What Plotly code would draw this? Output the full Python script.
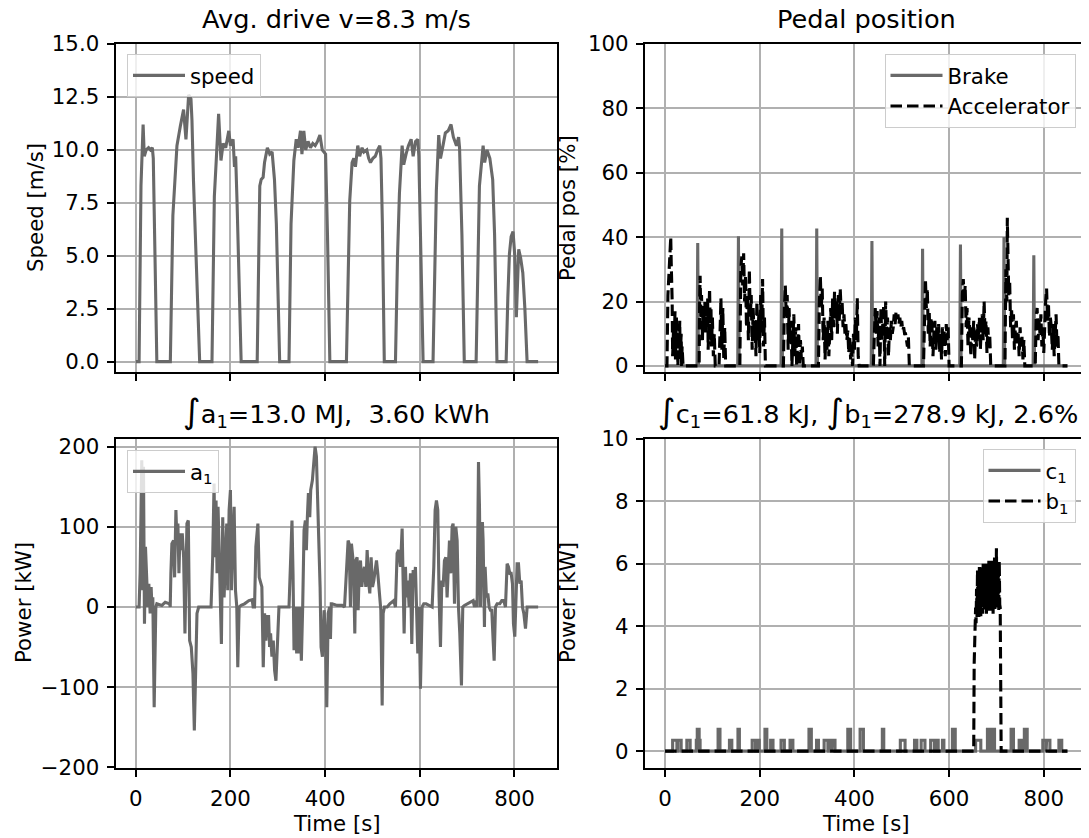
import plotly.graph_objects as go

# page body has an 8px margin: the figure is drawn 8px right/down of the window corner
OFF = 8
W, H = 1089 - OFF, 838 - OFF

# ---------------- data ----------------
speed_t = [0, 7, 11, 15.5, 18, 22, 27, 31, 35, 37, 44.5,
           73, 78.4, 83, 87, 94, 101, 106, 111.7, 116.6, 118.7, 122, 128, 135,
           161, 166, 170, 175, 180, 184.5, 190, 196.5, 200, 205.6, 208.5, 211, 214, 222.6,
           256.5, 262, 265, 269, 272, 278, 283, 288, 293, 297, 304,
           323.7, 328, 334, 339, 343, 348, 351, 355, 359, 364, 369, 374, 379, 384, 389, 394, 401, 405, 410,
           445, 449, 452, 457, 460.6, 464, 469, 473, 478, 482, 488, 492, 495.8, 501, 506, 511, 515.5, 518, 521, 525,
           548.6, 553, 557, 562.7, 566, 571, 576, 581.7, 586, 591, 595.8, 598, 602, 607,
           628, 632, 635, 640, 643.7, 649, 654, 660, 666, 671, 677.5, 682, 684, 689, 694,
           719, 723, 726, 733.8, 737, 742, 748, 754, 758, 763,
           782.4, 786, 789.4, 793, 797, 800.7, 804, 809, 813, 817.6, 822, 826.7, 850]
speed_v = [0, 0, 8.3, 11.2, 9.7, 10.0, 10.1, 10.0, 10.1, 9.6, 0,
           0, 6.9, 9.0, 10.2, 11.1, 11.9, 10.5, 12.6, 12.4, 11.4, 8.5, 4.2, 0,
           0, 7.8, 9.5, 11.7, 9.5, 10.3, 10.1, 10.9, 10.2, 10.5, 9.2, 9.7, 7.5, 0,
           0, 8.3, 8.6, 8.7, 9.4, 10.1, 9.8, 9.9, 8.6, 6.5, 0,
           0, 6.5, 9.5, 10.5, 10.1, 10.9, 9.8, 10.9, 10.0, 10.4, 10.1, 10.3, 10.2, 10.4, 10.7, 10.0, 9.8, 6.0, 0,
           0, 4.5, 7.6, 9.4, 9.6, 9.2, 10.2, 9.7, 10.1, 9.9, 10.0, 9.6, 9.4, 9.6, 9.7, 10.0, 10.2, 9.6, 6.5, 0,
           0, 5.0, 7.95, 10.2, 9.3, 9.8, 10.2, 10.5, 9.7, 10.4, 10.5, 9.7, 5.5, 0,
           0, 5.5, 8.1, 10.7, 9.6, 10.2, 10.8, 10.9, 11.2, 10.6, 10.2, 10.6, 10.1, 6.0, 0,
           0, 5.0, 8.3, 10.2, 9.4, 10.0, 9.6, 8.6, 6.0, 0,
           0, 3.0, 5.1, 5.9, 6.14, 5.0, 2.1, 5.3, 4.9, 4.2, 2.5, 0, 0]

brake_spike_t = [69, 155, 246.5, 320.4, 437, 544, 624, 716, 779]
brake_spike_v = [38.2, 40.3, 42.7, 42.7, 38.8, 36.4, 37.7, 40.0, 34.4]

acc_t = [0, 4, 6, 8, 10, 12, 13, 15, 16, 18, 19, 21, 22, 24, 25, 26, 27, 29, 30, 31, 32, 34, 35, 36, 38,
         72, 73, 74, 76, 77, 79, 80, 82, 84, 85, 87, 88, 90, 91, 93, 94, 96, 97, 98, 100, 102, 104, 106,
         114, 116, 118, 120, 122, 124, 126, 128, 130,
         158, 160, 162, 164, 166, 168, 170, 172, 174, 176, 178, 180, 182, 184, 186, 188, 190, 192, 194,
         196, 198, 200, 202, 204, 206, 208, 210, 212,
         250, 252, 254, 256, 258, 260, 262, 264, 266, 268, 270, 272, 274, 276, 278, 280, 282, 284, 286,
         288, 290, 292,
         324, 326, 328, 330, 332, 334, 336, 338, 340, 342, 344, 346, 348, 350, 352, 354, 356, 358, 360,
         362, 364, 366, 368, 370, 372, 374, 376, 378, 380, 382, 384, 386, 388, 390, 392, 394, 396, 398,
         400, 402, 404, 406, 408, 410,
         440, 442, 444, 446, 448, 450, 452, 454, 456, 458, 460, 462, 464, 466, 468, 470, 472, 474, 476,
         478, 480, 482, 484, 486, 488, 490, 492, 494, 496, 498, 500, 502, 504, 506, 508, 510, 512, 514, 516,
         546, 548, 550, 552, 554, 556, 558, 560, 562, 564, 566, 568, 570, 572, 574, 576, 578, 580, 582,
         584, 586, 588, 590, 592, 594, 596, 598, 600,
         626, 628, 630, 632, 634, 636, 638, 640, 642, 644, 646, 648, 650, 652, 654, 656, 658, 660, 662,
         664, 666, 668, 670, 672, 674, 676, 678, 680, 682, 684, 686, 688,
         718, 720, 722, 723, 724, 726, 728, 730, 732, 734, 736, 738, 740, 742, 744, 746, 748, 750, 752,
         754, 756, 758, 760,
         782, 784, 786, 788, 790, 792, 794, 796, 798, 800, 802, 804, 806, 808, 810, 812, 814, 816, 818,
         820, 822, 824, 826, 828, 830, 832, 850]
acc_v = [0, 0, 22, 30, 36, 40, 32, 20, 3, 12, 5, 17, 2, 15, 8, 13, 0, 10, 5, 14, 2, 10, 0, 6, 0,
         0, 20, 28, 12, 22, 8, 18, 14, 20, 10, 18, 13, 21, 5, 15, 24, 8, 18, 6, 15, 3, 10, 0,
         0, 10, 21, 5, 18, 2, 12, 0, 0,
         0, 30, 34, 25, 35, 20, 28, 12, 22, 8, 30, 15, 22, 5, 18, 10, 14, 3, 20,
         8, 16, 4, 22, 10, 27, 6, 15, 0,
         0, 18, 25, 15, 22, 5, 18, 8, 14, 0, 10, 16, 3, 12, 0, 8, 13, 0, 8,
         2, 6, 0,
         0, 20, 28, 18, 24, 8, 15, 2, 12, 5, 14, 3, 10, 18, 8, 21, 12, 23, 15,
         20, 10, 22, 14, 24, 17, 20, 12, 16, 10, 13, 8, 11, 4, 9, 2, 6, 0, 10,
         5, 15, 8, 21, 3, 0,
         0, 12, 18, 10, 17, 6, 15, 0, 18, 8, 14, 19, 0, 20, 10, 15, 3, 12, 8,
         14, 10, 12, 16, 13, 17, 15, 16, 13, 15, 12, 14, 11, 12, 10, 10, 8, 6, 9, 0,
         0, 20, 27, 18, 24, 10, 17, 6, 15, 12, 3, 11, 14, 5, 12, 8, 13, 4, 10,
         2, 12, 6, 11, 3, 13, 8, 12, 0,
         0, 22, 27, 20, 25, 12, 18, 6, 15, 10, 3, 12, 8, 14, 2, 11, 6, 13, 9,
         15, 5, 12, 16, 8, 20, 10, 14, 4, 12, 6, 9, 0,
         0, 30, 20, 46, 30, 22, 26, 12, 18, 8, 16, 5, 12, 14, 7, 10, 3, 12, 6,
         9, 2, 8, 0,
         0, 15, 18, 8, 14, 10, 16, 6, 12, 4, 15, 20, 24, 14, 19, 9, 15, 12, 5,
         13, 3, 11, 16, 6, 10, 0, 0]

a1_t = [0, 7, 9.2, 11.3, 12.7, 14.8, 16.3, 18.4, 20.5, 23.3, 25.4, 27.6, 30.4, 32.5, 34.6, 36.0, 38.9,
        42.4, 44.5, 55.1, 62.2, 71.4, 72.8, 74.2, 76.3, 79.9, 82.0, 84.8, 86.9, 89.0, 91.2, 93.3, 95.4,
        98.2, 101.1, 103.9, 108.1, 111.0, 113.8, 117.3, 120.8, 123.7, 126.5, 129.3, 132.9, 147, 159,
        162.5, 165.4, 167.5, 169.6, 171.7, 173.8, 176.0, 178.8, 180.9, 183.7, 186.6, 189.4, 192.2, 194.3,
        197.2, 200.0, 202.1, 204.9, 207.8, 210.6, 213.4, 215.5, 218.4, 222.6, 229.7, 238.9, 245.9, 248.0,
        250.9, 253.7, 258.0, 260.8, 263.6, 266.4, 269.3, 272.1, 274.9, 277.7, 280.6, 282.7, 284.8, 287.6,
        290.5, 293.3, 296.1, 298.9, 302.5, 323.7, 327.2, 330.0, 332.2, 334.3, 337.1, 339.9, 342.0, 344.9,
        347.0, 349.8, 352.6, 355.5, 358.3, 360.4, 362.5, 364.7, 367.5, 369.6, 373.1, 376.0, 378.8, 381.6,
        385.9, 389.4, 391.5, 394.3, 397.9, 400.7, 403.5, 406.4, 409.5, 411.3, 413, 414.8, 425.4, 436, 441,
        444.4, 448.6, 450.7, 453.5, 455.6, 458.5, 460.6, 462.7, 464.8, 467.6, 469.8, 471.9, 474.7, 477.5,
        480.3, 483.1, 486.0, 488.8, 491.6, 494.4, 497.2, 500.1, 502.9, 505.7, 508.5, 511.3, 514.9, 517.7,
        520.5, 522.6, 525.4, 531.1, 536.7, 541.6, 545.2, 548.6, 552.1, 555.7, 559.2, 562.7, 564.8, 566.9,
        569.7, 571.8, 574.6, 577.5, 580.3, 583.1, 586.0, 588.7, 590.8, 593.0, 595.8, 598.6, 601.4, 604.9,
        608.5, 613.4, 626.1, 629.6, 632.4, 635.2, 638.0, 640.8, 643.7, 646.5, 649.3, 652.1, 654.9, 657.7,
        660.6, 662.7, 665.5, 668.3, 670.4, 673.3, 676.1, 678.9, 681.7, 684.5, 688.0, 690.8, 694.4, 700.0,
        707.0, 712.7, 715.5, 718.3, 721.1, 724.0, 726.1, 728.2, 730.3, 732.4, 733.8, 735.2, 736.6, 738.0,
        740.9, 743.7, 746.5, 749.3, 752.1, 755.0, 757.1, 759.9, 763.4, 769.0, 773.3, 777.5, 781.0, 784.5,
        787.4, 790.1, 793.0, 795.8, 797.9, 800.7, 803.5, 805.6, 808.5, 811.3, 814.1, 816.9, 819.8, 823.3,
        826.8, 850]
a1_v = [0, 0, 42, 146, 183, 21, 175, -21, 75, 33, 0, 29, -8, 25, -8, 12, -125,
        0, 4, 2, 6, 4, 0, 42, 79, 83, 37, 121, 83, 104, 42, 92, 71,
        92, 62, -33, 104, 108, -42, -50, -83, -154, -83, -8, 0, 0, 0,
        62, 154, 62, 133, 42, 125, 75, 21, -46, 112, 12, 62, 104, 21,
        121, 146, 21, 83, 125, 21, 0, -75, 0, 2, 4, 8, 9, 0,
        0, 75, 104, 37, 29, 25, -75, -8, -42, -12, -12, -50, -33, -62,
        -42, -79, -92, -42, 0, 0, 50, 108, 42, -54, 0, -58, 0, -58,
        0, -67, 0, 96, 108, 71, 112, 142, 112, 146, 158, 183, 200, 188,
        112, 25, -50, -62, -4, -37, -125, -8, 0, -40, 4, 4, 2, 2, 0,
        33, 83, 79, 0, 79, 62, 33, -33, 58, 62, -4, 42, 58, 25,
        42, 50, 25, 71, 33, 17, 62, 25, 33, 50, 58, 42, 21, -4,
        -123, -8, 0, 0, 4, 6, 8, 0, 67, 71, 50, 98, 42, -33,
        50, 12, 33, 0, 42, -46, 46, 33, 50, 0, -58, 0, -102, 0,
        4, 4, 0, 50, 121, 133, 121, 12, -50, 33, 25, 58, 62, 12,
        71, 83, 42, 100, 104, 4, 100, 83, 0, -33, -98, 0, 2, 4,
        6, 8, 0, 8, 0, 181, 125, 0, 104, 104, 83, 0, -25, 50,
        12, 17, 0, -4, -4, -42, -67, 0, 4, 4, 8, 8, 0, 54,
        50, 42, 42, 29, -21, -37, 12, 54, 54, 29, 33, 0, -8, -27,
        0, 0]

c1_pulse_start = [16, 27, 46, 66, 68, 72, 112, 136, 154, 184, 193, 211, 223, 245, 264, 304, 320, 336, 346,
                  353, 386, 412, 459, 497, 527, 541, 561, 571, 586, 607, 656, 681, 691, 731, 748, 759,
                  798, 806, 832]
c1_pulse_end = [25, 34, 53, 68, 72, 74, 116, 141, 157, 191, 199, 215, 228, 252, 270, 309, 324, 344, 352,
                359, 392, 419, 462, 507, 532, 549, 569, 577, 589, 613, 667, 686, 696, 736, 754, 765,
                805, 813, 838]
c1_pulse_level = [0.35, 0.35, 0.35, 0.35, 0.7, 0.35, 0.7, 0.35, 0.7, 0.35, 0.35, 0.7, 0.35, 0.35, 0.35, 0.7,
                  0.35, 0.35, 0.35, 0.35, 0.7, 0.7, 0.7, 0.35, 0.35, 0.35, 0.35, 0.35, 0.35, 0.7, 0.35,
                  0.7, 0.7, 0.7, 0.35, 0.7, 0.35, 0.35, 0.35]

b1_t = [0, 652, 653, 654, 655, 656, 657, 658, 659, 660, 661, 662, 663, 664, 665, 666, 667, 668, 669, 670,
        671, 672, 673, 674, 675, 676, 677, 678, 679, 680, 681, 682, 683, 684, 685, 686, 687, 688, 689,
        690, 691, 692, 693, 694, 695, 696, 697, 698, 699, 700, 701, 702, 703, 704, 705, 706, 707, 708,
        710, 850]
b1_v = [0, 0, 2.8, 4.0, 3.6, 4.6, 4.1, 5.2, 4.3, 5.8, 4.4, 5.6, 4.3, 5.9, 4.5, 5.7, 4.3, 5.9, 4.6, 5.8,
        4.4, 6.0, 4.7, 5.9, 4.5, 6.0, 4.6, 5.8, 4.4, 6.0, 4.7, 5.9, 4.5, 6.1, 4.6, 5.9, 4.5, 6.0, 4.8,
        6.1, 4.6, 5.9, 4.4, 6.0, 4.7, 6.2, 4.5, 5.9, 4.6, 6.5, 4.8, 6.0, 4.6, 5.9, 4.5, 6.1, 4.7, 4.6,
        0, 0]

x_ticks = [0, 200, 400, 600, 800]

# ---------------- derived series ----------------
brake_t, brake_v = [0], [0]
for t, v in zip(brake_spike_t, brake_spike_v):
    brake_t += [t - 1.5, t, t + 1.5]
    brake_v += [0, v, 0]
brake_t.append(850)
brake_v.append(0)

c1_t, c1_v = [0], [0]
for s, e, lv in zip(c1_pulse_start, c1_pulse_end, c1_pulse_level):
    c1_t += [s, s, e, e]
    c1_v += [0, lv, lv, 0]
c1_t.append(850)
c1_v.append(0)

# ---------------- style ----------------
FONT = "DejaVu Sans"
GREY = "#696969"
LW = 3.1
DASH = "11.5px,5px"
TICK = 21.3
TITLE = 25.6
GRIDW = 1.6
TLEN = 7.4

def px_x(x):
    return (x - OFF) / W

def px_y(y):
    return 1 - (y - OFF) / H

XL = [115.7, 557.3]
XR = [645.0, 1086.6]
YT = [44.0, 372.0]
YB = [439.0, 767.7]

fig = go.Figure()

fig.add_trace(go.Scatter(x=speed_t, y=speed_v, mode="lines", name="speed",
                         line=dict(color=GREY, width=LW), xaxis="x", yaxis="y", legend="legend"))
fig.add_trace(go.Scatter(x=brake_t, y=brake_v, mode="lines", name="Brake",
                         line=dict(color=GREY, width=LW), xaxis="x2", yaxis="y2", legend="legend2"))
fig.add_trace(go.Scatter(x=acc_t, y=acc_v, mode="lines", name="Accelerator",
                         line=dict(color="black", width=LW, dash=DASH), xaxis="x2", yaxis="y2",
                         legend="legend2"))
fig.add_trace(go.Scatter(x=a1_t, y=a1_v, mode="lines", name="a<sub>1</sub>",
                         line=dict(color=GREY, width=LW), xaxis="x3", yaxis="y3", legend="legend3"))
fig.add_trace(go.Scatter(x=c1_t, y=c1_v, mode="lines", name="c<sub>1</sub>",
                         line=dict(color=GREY, width=LW), xaxis="x4", yaxis="y4", legend="legend4"))
fig.add_trace(go.Scatter(x=b1_t, y=b1_v, mode="lines", name="b<sub>1</sub>",
                         line=dict(color="black", width=LW, dash=DASH), xaxis="x4", yaxis="y4",
                         legend="legend4"))

def xaxis(dom, anchor, labels):
    return dict(domain=[px_x(dom[0]), px_x(dom[1])], anchor=anchor, range=[-42.4, 890.5],
                tickvals=x_ticks, showticklabels=labels, ticks="outside", ticklen=TLEN, tickwidth=1.6,
                tickcolor="black", showline=True, mirror=True, linecolor="black", linewidth=1.6,
                showgrid=True, gridcolor="#b0b0b0", gridwidth=GRIDW, zeroline=False, automargin=False,
                tickfont=dict(family=FONT, size=TICK, color="black"), ticklabelstandoff=4)

def yaxis(dom, anchor, rng, tickvals, fmt):
    return dict(domain=[px_y(dom[1]), px_y(dom[0])], anchor=anchor, range=rng,
                tickvals=tickvals, tickformat=fmt, ticks="outside", ticklen=TLEN, tickwidth=1.6,
                tickcolor="black", showline=True, mirror=True, linecolor="black", linewidth=1.6,
                showgrid=True, gridcolor="#b0b0b0", gridwidth=GRIDW, zeroline=False, automargin=False,
                tickfont=dict(family=FONT, size=TICK, color="black"), ticklabelstandoff=3)

def legend(x, y, xanchor):
    return dict(x=px_x(x), y=px_y(y), xanchor=xanchor, yanchor="top", visible=True,
                bgcolor="rgba(255,255,255,0.8)", bordercolor="#cccccc", borderwidth=1,
                font=dict(family=FONT, size=TICK, color="black"), itemwidth=52)

fig.update_layout(
    width=W, height=H, margin=dict(l=0, r=0, t=0, b=0, pad=0, autoexpand=False),
    plot_bgcolor="white", paper_bgcolor="white", showlegend=True,
    font=dict(family=FONT, color="black"),
    xaxis=xaxis(XL, "y", False),
    yaxis=yaxis(YT, "x", [-0.49, 15], [0, 2.5, 5, 7.5, 10, 12.5, 15], ".1f"),
    xaxis2=xaxis(XR, "y2", False),
    yaxis2=yaxis(YT, "x2", [-1.9, 100], [0, 20, 40, 60, 80, 100], "d"),
    xaxis3=xaxis(XL, "y3", True),
    yaxis3=yaxis(YB, "x3", [-200.5, 209.6], [-200, -100, 0, 100, 200], "d"),
    xaxis4=xaxis(XR, "y4", True),
    yaxis4=yaxis(YB, "x4", [-0.53, 10], [0, 2, 4, 6, 8, 10], "d"),
    legend=legend(127, 54, "left"),
    legend2=legend(1075.5, 54, "right"),
    legend3=legend(127, 450, "left"),
    legend4=legend(1075.5, 449, "right"),
)

def ann(text, x, y, size, angle=0):
    fig.add_annotation(text=text, x=px_x(x), y=px_y(y), xref="paper", yref="paper",
                       showarrow=False, xanchor="center", yanchor="middle", textangle=angle,
                       font=dict(family=FONT, size=size, color="black"))

INT = '<span style="font-size:34px">∫</span>'
ann("Avg. drive v=8.3 m/s", 336.5, 19, TITLE)
ann("Pedal position", 866, 19, TITLE)
ann(INT + "a<sub>1</sub>=13.0 MJ,\u00a0 3.60 kWh", 336.5, 412, TITLE)
ann(INT + "c<sub>1</sub>=61.8 kJ, " + INT + "b<sub>1</sub>=278.9 kJ, 2.6%", 868, 412, TITLE)
ann("Speed [m/s]", 35, 208, TICK, -90)
ann("Pedal pos [%]", 567, 208, TICK, -90)
ann("Power [kW]", 23, 603, TICK, -90)
ann("Power [kW]", 567, 603, TICK, -90)
ann("Time [s]", 336.5, 823, TICK)
ann("Time [s]", 866, 823, TICK)

fig.write_html("out.html")
